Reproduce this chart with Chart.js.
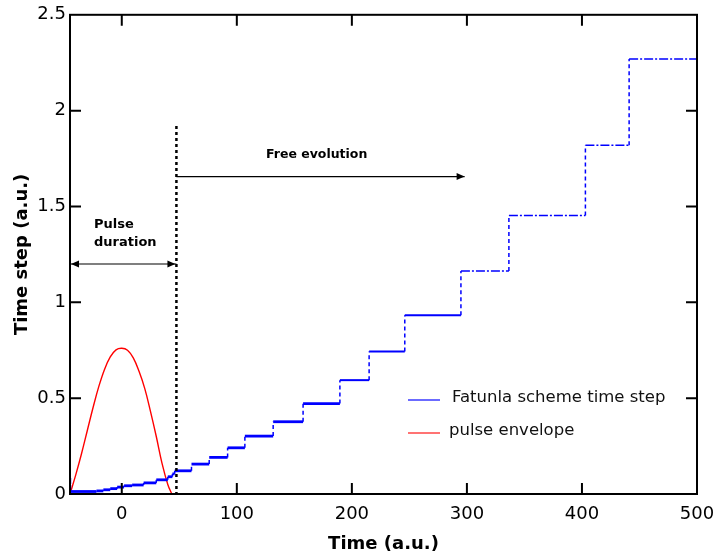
<!DOCTYPE html>
<html>
<head>
<meta charset="utf-8">
<script src="https://cdn.jsdelivr.net/npm/chart.js@4.4.1/dist/chart.umd.min.js"></script>
<style>
  html, body { margin: 0; padding: 0; background: #fff; }
  canvas { display: block; }
</style>
</head>
<body>
<canvas id="chart" width="717" height="559"></canvas>
<script>
// ===== Du lieu doc tu hinh =====
const xTicks = [0, 100, 200, 300, 400, 500];
const yTicks = [0, 0.5, 1, 1.5, 2, 2.5];

// buoc thoi gian (bac thang): x bat dau moi bac va gia tri cua bac
const stepStarts = [-45, -44.6, -22, -16, -10, -4, 2, 9, 19, 30, 40, 44, 46,
                    60.6, 76, 92, 107, 131.6, 157.6, 189.6, 215, 246, 294.8, 336.5, 403, 441];
const stepLevels = [0.083, 0.013, 0.016, 0.022, 0.028, 0.036, 0.043, 0.047, 0.058, 0.074, 0.09, 0.105, 0.121,
                    0.156, 0.191, 0.241, 0.302, 0.377, 0.472, 0.594, 0.743, 0.932, 1.163, 1.453, 1.82, 2.27];
const stepEnd = 500;

// duong bao xung
const pulseX = [-45, -40, -35, -30, -25, -20, -15, -10, -5, 0, 5, 10, 15, 20, 25, 30, 35, 40, 43.5];
const pulseY = [0, 0.1, 0.21, 0.33, 0.45, 0.56, 0.65, 0.715, 0.752, 0.76, 0.75, 0.71, 0.64, 0.55, 0.43, 0.3, 0.16, 0.05, 0];

const seriesLabels = ["Fatunla scheme time step", "pulse envelope"];
const legendColors = ["#3a3aff", "#ff4444"];

// moc chu thich
const pulseEndX = 47.5;
const dottedTopY = 1.92;
const pulseArrowY = 1.2;
const freeArrowY = 1.656;
const freeArrowEndX = 298;

// ===== Tao diem cho bac thang =====
const stepPoints = [{ x: stepStarts[0], y: 0 }];
stepStarts.forEach((s, i) => {
    const end = i < stepStarts.length - 1 ? stepStarts[i + 1] : stepEnd;
    stepPoints.push({ x: s, y: stepLevels[i] });
    stepPoints.push({ x: end, y: stepLevels[i] });
});
const pulsePoints = pulseX.map((x, i) => ({ x: x, y: pulseY[i] }));

const FONT = "'DejaVu Sans', sans-serif";

function arrowHead(ctx, x, y, dir) {
    ctx.beginPath();
    ctx.moveTo(x, y);
    ctx.lineTo(x - dir * 8, y - 3.5);
    ctx.lineTo(x - dir * 8, y + 3.5);
    ctx.closePath();
    ctx.fill();
}

// ===== Plugin: khung, vach chia huong vao trong, chu thich, legend =====
const decor = {
    id: "decor",
    afterDatasetsDraw(chart) {
        const { ctx, chartArea: a, scales } = chart;
        const xs = scales.x, ys = scales.y;
        ctx.save();

        // duong cham thang dung
        ctx.strokeStyle = "#000";
        ctx.lineWidth = 2.5;
        ctx.setLineDash([3, 3]);
        const px = xs.getPixelForValue(pulseEndX);
        ctx.beginPath();
        ctx.moveTo(px, ys.getPixelForValue(dottedTopY));
        ctx.lineTo(px, ys.getPixelForValue(0));
        ctx.stroke();
        ctx.setLineDash([]);

        // mui ten "Pulse duration"
        ctx.lineWidth = 1.2;
        ctx.fillStyle = "#000";
        const py = ys.getPixelForValue(pulseArrowY);
        ctx.beginPath();
        ctx.moveTo(a.left, py);
        ctx.lineTo(px, py);
        ctx.stroke();
        arrowHead(ctx, a.left + 1, py, -1);
        arrowHead(ctx, px - 1, py, 1);

        // mui ten "Free evolution"
        const fy = ys.getPixelForValue(freeArrowY);
        const fx = xs.getPixelForValue(freeArrowEndX);
        ctx.beginPath();
        ctx.moveTo(px, fy);
        ctx.lineTo(fx, fy);
        ctx.stroke();
        arrowHead(ctx, fx, fy, 1);

        ctx.font = "bold 13px " + FONT;
        ctx.textBaseline = "middle";
        ctx.textAlign = "left";
        ctx.fillText("Pulse", 94, 225);
        ctx.fillText("duration", 94, 243);
        ctx.font = "bold 12.5px " + FONT;
        ctx.fillText("Free evolution", 266, 155);

        // khung
        ctx.lineWidth = 2;
        ctx.strokeRect(a.left, a.top, a.right - a.left, a.bottom - a.top);

        // vach chia huong vao trong
        const tl = 11;
        ctx.beginPath();
        xTicks.forEach(v => {
            const x = xs.getPixelForValue(v);
            if (v > xs.min && v < xs.max) {
                ctx.moveTo(x, a.bottom); ctx.lineTo(x, a.bottom - tl);
                ctx.moveTo(x, a.top); ctx.lineTo(x, a.top + tl);
            }
        });
        yTicks.forEach(v => {
            const y = ys.getPixelForValue(v);
            if (v > ys.min && v < ys.max) {
                ctx.moveTo(a.left, y); ctx.lineTo(a.left + tl, y);
                ctx.moveTo(a.right, y); ctx.lineTo(a.right - tl, y);
            }
        });
        ctx.stroke();

        // legend
        ctx.font = "16.5px " + FONT;
        ctx.fillStyle = "#111";
        ctx.lineWidth = 1.5;
        chart.data.datasets.forEach((ds, i) => {
            const ly = 400 + i * 33;
            ctx.strokeStyle = legendColors[i];
            ctx.beginPath();
            ctx.moveTo(408, ly);
            ctx.lineTo(440, ly);
            ctx.stroke();
            ctx.fillText(ds.label, 452 + (i === 1 ? -3 : 0), ly - 2);
        });

        ctx.restore();
    }
};

new Chart(document.getElementById("chart"), {
    type: "line",
    data: {
        datasets: [{
            label: seriesLabels[0],
            data: stepPoints,
            borderColor: "#0000ff",
            borderWidth: 2.5,
            pointRadius: 0,
            clip: false,
            segment: {
                borderDash: c => {
                    if (c.p0.parsed.y !== c.p1.parsed.y) return [4, 3];
                    return c.p0.parsed.y >= 1 ? [9, 2, 2, 2] : undefined;
                },
                borderWidth: c => {
                    if (c.p0.parsed.y !== c.p1.parsed.y) return 1.5;
                    if (c.p0.parsed.y >= 1) return 1.5;
                    return c.p0.parsed.y >= 0.5 ? 2 : 2.8;
                }
            }
        }, {
            label: seriesLabels[1],
            data: pulsePoints,
            borderColor: "#ff0000",
            borderWidth: 1.4,
            pointRadius: 0,
            tension: 0.4
        }]
    },
    options: {
        responsive: false,
        animation: false,
        layout: { padding: { left: 0, top: 14, right: 20, bottom: 0 } },
        plugins: {
            legend: { display: false },
            tooltip: { enabled: false }
        },
        scales: {
            x: {
                type: "linear",
                min: -45,
                max: 500,
                afterBuildTicks: s => { s.ticks = xTicks.map(v => ({ value: v })); },
                afterFit: s => { s.height = 65; s.paddingRight = 0; s.paddingLeft = 0; },
                grid: { display: false, drawTicks: false },
                border: { display: false },
                ticks: {
                    color: "#000",
                    font: { family: FONT, size: 18 },
                    padding: 10,
                    maxRotation: 0,
                    callback: v => String(v)
                },
                title: {
                    display: true,
                    text: "Time (a.u.)",
                    color: "#000",
                    font: { family: FONT, size: 18, weight: "bold" },
                    padding: { top: 0, bottom: 4 }
                }
            },
            y: {
                type: "linear",
                min: 0,
                max: 2.5,
                afterBuildTicks: s => { s.ticks = yTicks.map(v => ({ value: v })); },
                afterFit: s => { s.width = 70; },
                grid: { display: false, drawTicks: false },
                border: { display: false },
                ticks: {
                    color: "#000",
                    font: { family: FONT, size: 18 },
                    padding: 4,
                    callback: v => String(v)
                },
                title: {
                    display: true,
                    text: "Time step (a.u.)",
                    color: "#000",
                    font: { family: FONT, size: 18, weight: "bold" },
                    padding: { top: 12, bottom: 0 }
                }
            }
        }
    },
    plugins: [decor]
});
</script>
</body>
</html>
